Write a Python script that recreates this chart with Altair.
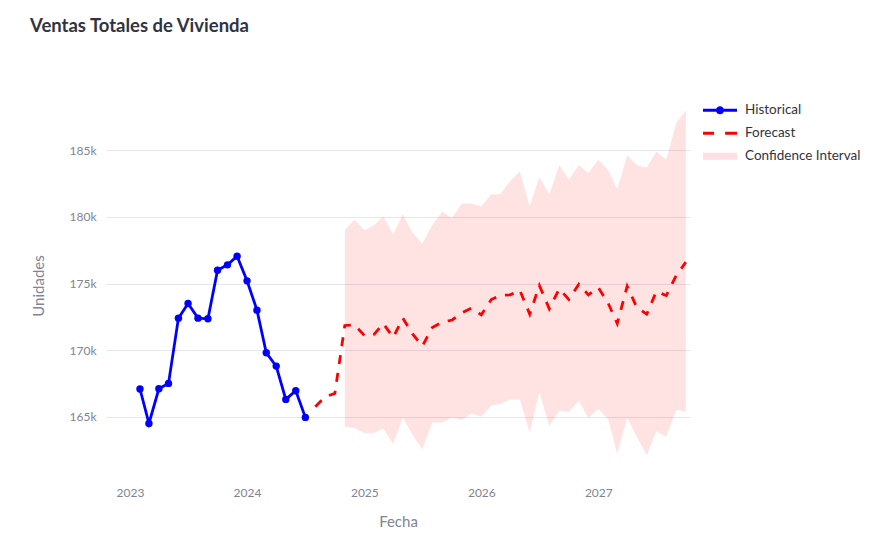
import altair as alt
import pandas as pd

# ---------------- data ----------------
hist_dates = ["2023-02-01", "2023-03-01", "2023-04-01", "2023-05-01", "2023-06-01", "2023-07-01",
              "2023-08-01", "2023-09-01", "2023-10-01", "2023-11-01", "2023-12-01", "2024-01-01",
              "2024-02-01", "2024-03-01", "2024-04-01", "2024-05-01", "2024-06-01", "2024-07-01"]
hist_values = [167080, 164500, 167100, 167500, 172400, 173500, 172400, 172350, 176000,
               176400, 177050, 175200, 173000, 169800, 168800, 166300, 166950, 164950]

fc_dates = ["2024-08-01", "2024-09-01", "2024-10-01", "2024-11-01", "2024-12-01",
            "2025-01-01", "2025-02-01", "2025-03-01", "2025-04-01", "2025-05-01", "2025-06-01",
            "2025-07-01", "2025-08-01", "2025-09-01", "2025-10-01", "2025-11-01", "2025-12-01",
            "2026-01-01", "2026-02-01", "2026-03-01", "2026-04-01", "2026-05-01", "2026-06-01",
            "2026-07-01", "2026-08-01", "2026-09-01", "2026-10-01", "2026-11-01", "2026-12-01",
            "2027-01-01", "2027-02-01", "2027-03-01", "2027-04-01", "2027-05-01", "2027-06-01",
            "2027-07-01", "2027-08-01", "2027-09-01", "2027-10-01"]
fc_values = [165750, 166500, 166750, 171850, 171900, 171100, 171200, 172000, 170950, 172400,
             171200, 170300, 171700, 172100, 172250, 172800, 173150, 172650, 173800, 174100,
             174150, 174500, 172700, 174850, 173100, 174600, 173800, 174950, 174150, 174700,
             173500, 172000, 174800, 173200, 172700, 174400, 174100, 175600, 176600]

ci_dates = fc_dates[3:]
ci_upper = [179000, 179800, 179000, 179400, 180050, 178700, 180200, 178800, 178000, 179400,
            180400, 179900, 181000, 181000, 180800, 181700, 181700, 182700, 183400, 180800,
            183000, 181700, 183900, 182800, 183900, 183300, 184300, 183500, 182100, 184600,
            183900, 183700, 184900, 184300, 187050, 188000]
ci_lower = [164250, 164150, 163750, 163800, 164100, 162950, 164950, 163600, 162550, 164570,
            164570, 164950, 164750, 165250, 165000, 165850, 165950, 166300, 166300, 163800,
            166850, 164300, 165450, 165350, 166200, 164900, 165600, 164800, 162200, 164900,
            163500, 162100, 163900, 163500, 165500, 165400]

series_names = ["Historical", "Forecast", "Confidence Interval"]
series_colors = ["blue", "red", "#ffdfe2"]
year_ticks = [2023, 2024, 2025, 2026, 2027]
y_ticks = [165000, 170000, 175000, 180000, 185000]

hist_df = pd.DataFrame({"date": hist_dates, "value": hist_values})
fc_df = pd.DataFrame({"date": fc_dates, "value": fc_values})
ci_df = pd.DataFrame({"date": ci_dates, "lower": ci_lower, "upper": ci_upper})
legend_df = pd.DataFrame({"series": series_names, "date": ["2020-01-01"] * 3, "value": [100000] * 3})

FONT = "Lato"
GREY = "#808495"
TEXT = "#31333f"

x_scale = alt.Scale(domain=[alt.DateTime(year=2022, month=10, date=18),
                            alt.DateTime(year=2027, month=10, date=14)])
y_scale = alt.Scale(domain=[160400, 189300], nice=False, zero=False)

axis_style = dict(labelFont=FONT, labelFontSize=12, labelColor=GREY,
                  titleFont=FONT, titleFontSize=15, titleColor=GREY, titleFontWeight="normal",
                  gridColor="#e6e6ee", gridWidth=1, domain=False, ticks=False)

x_axis = alt.Axis(values=[alt.DateTime(year=y, month=1, date=1) for y in year_ticks],
                  format="%Y", grid=False, labelPadding=9, titlePadding=16, **axis_style)
y_axis = alt.Axis(values=y_ticks, format="~s", grid=True, labelPadding=10, titlePadding=23,
                  **axis_style)

X = alt.X("date:T", scale=x_scale, axis=x_axis, title="Fecha")

ci = alt.Chart(ci_df).mark_area(color="red", opacity=0.11).encode(
    x=X,
    y=alt.Y("lower:Q", scale=y_scale, axis=y_axis, title="Unidades"),
    y2="upper:Q",
)

hist = alt.Chart(hist_df).mark_line(
    color="blue", strokeWidth=2.8,
    point=alt.OverlayMarkDef(color="blue", filled=True, size=55, opacity=1),
).encode(x=X, y=alt.Y("value:Q", scale=y_scale))

fc = alt.Chart(fc_df).mark_line(color="red", strokeWidth=2.8, strokeDash=[9, 9]).encode(
    x=X, y=alt.Y("value:Q", scale=y_scale)
)

hist_path = ("M-1,-0.09L1,-0.09L1,0.09L-1,0.09Z "
             "M0.24,0A0.24,0.24 0 1,1 -0.24,0A0.24,0.24 0 1,1 0.24,0Z")
fc_path = "M-1,-0.09L-0.35,-0.09L-0.35,0.09L-1,0.09Z M0.3,-0.09L1,-0.09L1,0.09L0.3,0.09Z"
ci_path = "M-1,-0.2L1,-0.2L1,0.2L-1,0.2Z"

leg_props = dict(title=None, orient="none", legendX=597, legendY=7, symbolSize=1156,
                 labelFont=FONT, labelFontSize=13.5, labelColor=TEXT, labelOffset=8,
                 rowPadding=2, clipHeight=20.5, padding=0, symbolStrokeWidth=0,
                 symbolOpacity=1)

legend_layer = alt.Chart(legend_df).mark_point(filled=True, clip=True, strokeWidth=0,
                                               opacity=1).encode(
    x=X,
    y=alt.Y("value:Q", scale=y_scale),
    color=alt.Color("series:N", scale=alt.Scale(domain=series_names, range=series_colors),
                    legend=alt.Legend(**leg_props)),
    shape=alt.Shape("series:N", scale=alt.Scale(domain=series_names,
                                                range=[hist_path, fc_path, ci_path]),
                    legend=alt.Legend(**leg_props)),
)

chart = alt.layer(ci, fc, hist, legend_layer).properties(
    width=584,
    height=385,
    background="white",
    autosize=alt.AutoSizeParams(type="none"),
    padding={"left": 98, "top": 85, "right": 171, "bottom": 58},
    title=alt.TitleParams("Ventas Totales de Vivienda", anchor="start", frame="group",
                          dx=-76, offset=58, fontSize=18.5, font=FONT, fontWeight="bold",
                          color=TEXT),
).configure_view(strokeOpacity=0, strokeWidth=0)

chart.save("out.html", embed_options={"renderer": "svg", "actions": False})
